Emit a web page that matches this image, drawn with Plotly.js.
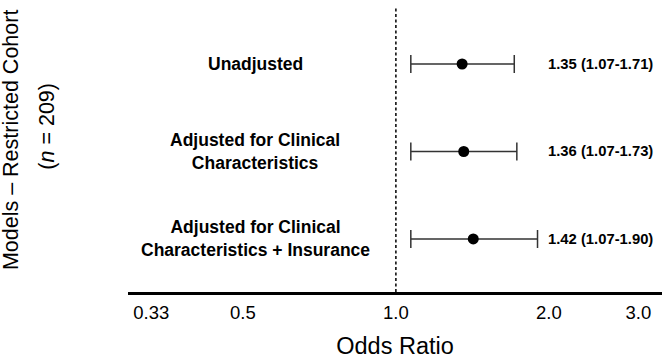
<!DOCTYPE html>
<html>
<head>
<meta charset="utf-8">
<script src="https://cdn.plot.ly/plotly-3.0.1.min.js"></script>
<style>
  html, body { margin: 0; padding: 0; background: #fff; }
  #chart { width: 666px; height: 360px; }
</style>
</head>
<body>
<div id="chart"></div>
<script>
// Odds ratios with 95% confidence intervals for each model
const models = [
  "Unadjusted",
  "Adjusted for Clinical<br>Characteristics",
  "Adjusted for Clinical<br>Characteristics + Insurance"
];
const oddsRatio = [1.35, 1.36, 1.42];
const ciLow = [1.07, 1.07, 1.07];
const ciHigh = [1.71, 1.73, 1.90];

const tickVals = [0.33, 0.5, 1.0, 2.0, 3.0];
const tickText = ["0.33", "0.5", "1.0", "2.0", "3.0"];

const FONT = "Liberation Sans, Arial, Helvetica, sans-serif";

const trace = {
  type: "scatter",
  mode: "markers",
  x: oddsRatio,
  y: models,
  marker: { color: "#000", size: 11 },
  error_x: {
    type: "data",
    symmetric: false,
    array: oddsRatio.map((v, i) => ciHigh[i] - v),
    arrayminus: oddsRatio.map((v, i) => v - ciLow[i]),
    color: "#333",
    thickness: 1.5,
    width: 9
  },
  hoverinfo: "skip",
  showlegend: false
};

const fmt = v => v.toFixed(2);

const annotations = [];
// model names, centred in the left part of the panel
models.forEach((m, i) => {
  annotations.push({
    xref: "paper", yref: "y",
    x: 0.238, y: i,
    text: "<b>" + m + "</b>",
    showarrow: false,
    xanchor: "center", yanchor: "middle",
    font: { family: FONT, size: 17.5, color: "#000" }
  });
});
// OR (CI) labels on the right
oddsRatio.forEach((v, i) => {
  annotations.push({
    xref: "paper", yref: "y",
    x: 0.782, y: i,
    text: "<b>" + fmt(v) + " (" + fmt(ciLow[i]) + "-" + fmt(ciHigh[i]) + ")</b>",
    showarrow: false,
    xanchor: "left", yanchor: "middle",
    font: { family: FONT, size: 14.8, color: "#000" }
  });
});
// vertical axis title in two lines
annotations.push({
  xref: "paper", yref: "paper",
  x: -0.219, y: 0.535,
  text: "Models \u2013 Restricted Cohort",
  showarrow: false, textangle: -90,
  xanchor: "center", yanchor: "middle",
  font: { family: FONT, size: 21.5, color: "#000" }
});
annotations.push({
  xref: "paper", yref: "paper",
  x: -0.152, y: 0.585,
  text: "(<i>n</i> = 209)",
  showarrow: false, textangle: -90,
  xanchor: "center", yanchor: "middle",
  font: { family: FONT, size: 21.5, color: "#000" }
});

const layout = {
  width: 666,
  height: 360,
  margin: { l: 128, r: 4, t: 8, b: 68 },
  paper_bgcolor: "#fff",
  plot_bgcolor: "#fff",
  font: { family: FONT, color: "#000" },
  xaxis: {
    type: "log",
    range: [Math.log10(0.297), Math.log10(3.34)],
    tickvals: tickVals,
    ticktext: tickText,
    tickfont: { family: FONT, size: 18.5, color: "#000" },
    ticks: "outside",
    ticklen: 2,
    tickcolor: "rgba(0,0,0,0)",
    showgrid: false,
    zeroline: false,
    showline: true,
    linecolor: "#000",
    linewidth: 3,
    title: {
      text: "Odds Ratio",
      font: { family: FONT, size: 23.5, color: "#000" },
      standoff: 16
    },
    automargin: false,
    fixedrange: true
  },
  yaxis: {
    type: "category",
    categoryorder: "array",
    categoryarray: models,
    range: [2.606, -0.64],
    showticklabels: false,
    ticks: "",
    showgrid: false,
    zeroline: false,
    showline: false,
    fixedrange: true
  },
  shapes: [{
    type: "line",
    xref: "x", yref: "paper",
    x0: 1, x1: 1, y0: 0, y1: 1,
    line: { color: "#000", width: 1.5, dash: "3px,2.5px" },
    layer: "below"
  }],
  annotations: annotations
};

Plotly.newPlot("chart", [trace], layout, { displayModeBar: false, staticPlot: true });
</script>
</body>
</html>
